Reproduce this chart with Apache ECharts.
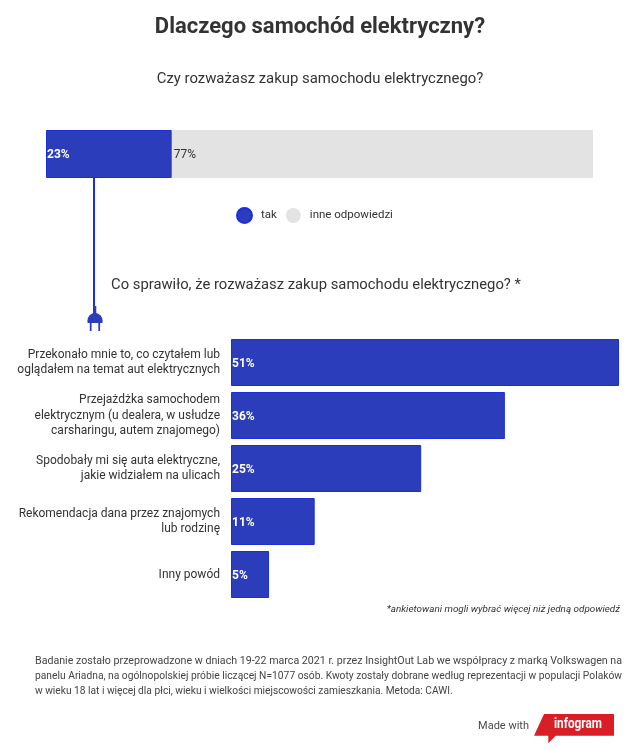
<!DOCTYPE html>
<html>
<head>
<meta charset="utf-8">
<style>
html, body { margin: 0; padding: 0; background: #fff; }
#chart { width: 641px; height: 750px; }
</style>
<script src="https://cdn.jsdelivr.net/npm/echarts@6/dist/echarts.min.js"></script>
</head>
<body>
<div id="chart"></div>
<script>
'use strict';

var topCategories = ['Czy rozważasz'];
var topNames = ['tak', 'inne odpowiedzi'];
var topYes = [23];
var topOther = [77];

var reasonCategories = [
    'Przekonało mnie to, co czytałem lub\noglądałem na temat aut elektrycznych',
    'Przejażdżka samochodem\nelektrycznym (u dealera, w usłudze\ncarsharingu, autem znajomego)',
    'Spodobały mi się auta elektryczne,\njakie widziałem na ulicach',
    'Rekomendacja dana przez znajomych\nlub rodzinę',
    'Inny powód'
];
var reasonValues = [51, 36, 25, 11, 5];

var noteLines = [
    'Badanie zostało przeprowadzone w dniach 19-22 marca 2021 r. przez InsightOut Lab we współpracy z marką Volkswagen na',
    'panelu Ariadna, na ogólnopolskiej próbie liczącej N=1077 osób. Kwoty zostały dobrane według reprezentacji w populacji Polaków',
    'w wieku 18 lat i więcej dla płci, wieku i wielkości miejscowości zamieszkania. Metoda: CAWI.'
];

var BLUE = '#2b3dbb';
var BLUE_EDGE = '#1a2fdc';
var GREY = '#e3e3e3';
var TEXT = '#333333';
var FONT = 'Roboto';

function percent(p) {
    return p.value + '%';
}

function textEl(x, y, text, size, opts) {
    opts = opts || {};
    return {
        type: 'text',
        x: x,
        y: y,
        scaleX: opts.scaleX || 1,
        silent: true,
        style: {
            text: text,
            fontFamily: opts.family || FONT,
            fontSize: size,
            fontWeight: opts.weight || 'normal',
            fontStyle: opts.style || 'normal',
            fill: opts.color || TEXT,
            align: opts.align || 'left',
            verticalAlign: 'middle'
        }
    };
}

function rectEl(x, y, w, h) {
    return { type: 'rect', silent: true, shape: { x: x, y: y, width: w, height: h }, style: { fill: BLUE } };
}

// the note is justified in the original, stretch the long lines to the block width
function noteLine(text, y, justify) {
    var size = 10.2;
    var ctx = document.createElement('canvas').getContext('2d');
    ctx.font = size + 'px ' + FONT;
    var scale = justify ? 587 / ctx.measureText(text).width : 1;
    return textEl(35, y, text, size, { scaleX: scale, color: '#444444' });
}

var graphics = [
    textEl(320, 27.5, 'Dlaczego samochód elektryczny?', 22, { weight: 'bold', align: 'center' }),
    textEl(320, 79, 'Czy rozważasz zakup samochodu elektrycznego?', 14.9, { align: 'center' }),
    textEl(111, 285, 'Co sprawiło, że rozważasz zakup samochodu elektrycznego? *', 14.8),
    textEl(620, 609.5, '*ankietowani mogli wybrać więcej niż jedną odpowiedź', 9.9, { style: 'italic', align: 'right' }),
    // connector with the plug
    { type: 'rect', silent: true, shape: { x: 93, y: 178, width: 2, height: 136 }, style: { fill: BLUE_EDGE } },
    rectEl(93.5, 306, 2.8, 8),
    { type: 'sector', silent: true, shape: { cx: 95, cy: 320.5, r: 7.5, r0: 0, startAngle: Math.PI, endAngle: Math.PI * 2 }, style: { fill: BLUE } },
    rectEl(87.5, 320, 15, 3),
    rectEl(89.8, 322, 1.8, 9),
    rectEl(98.3, 322, 1.8, 9),
    // made with infogram
    textEl(529, 726, 'Made with', 11, { align: 'right', color: '#4a4a4a' }),
    {
        type: 'polygon',
        silent: true,
        shape: { points: [[544, 714], [614, 714], [614, 735.7], [555.7, 735.7], [548.3, 743.3], [548.3, 735.7], [534, 735.7]] },
        style: { fill: '#d91e25' }
    },
    textEl(554, 724.5, 'infogram', 14, { color: '#ffffff', weight: 'bold', scaleX: 0.84 })
];

noteLines.forEach(function(line, i) {
    graphics.push(noteLine(line, 661.5 + i * 15, i < 2));
});

var chart = echarts.init(document.getElementById('chart'), null, { renderer: 'canvas' });
chart.setOption({
    animation: false,
    backgroundColor: '#ffffff',
    textStyle: { fontFamily: FONT },
    legend: {
        data: topNames,
        left: 231,
        top: 202,
        icon: 'circle',
        itemWidth: 15,
        itemHeight: 15,
        itemGap: 9,
        selectedMode: false,
        textStyle: { fontFamily: FONT, fontSize: 11.5, color: TEXT, padding: [0, 0, 0, 4] }
    },
    grid: [
        { left: 46, top: 130, width: 547, height: 48 },
        { left: 231, top: 336, width: 388, height: 265 }
    ],
    xAxis: [
        { gridIndex: 0, type: 'value', min: 0, max: 100, show: false },
        { gridIndex: 1, type: 'value', min: 0, max: 51, show: false }
    ],
    yAxis: [
        { gridIndex: 0, type: 'category', data: topCategories, show: false },
        {
            gridIndex: 1,
            type: 'category',
            data: reasonCategories,
            inverse: true,
            axisLine: { show: false },
            axisTick: { show: false },
            axisLabel: { fontFamily: FONT, fontSize: 12, lineHeight: 15.5, color: TEXT, align: 'right', margin: 11 }
        }
    ],
    series: [
        {
            name: topNames[0],
            type: 'bar',
            stack: 'top',
            xAxisIndex: 0,
            yAxisIndex: 0,
            data: topYes,
            barWidth: 48,
            itemStyle: { color: BLUE, borderColor: BLUE_EDGE, borderWidth: 1 },
            label: { show: true, position: 'insideLeft', distance: 1, offset: [0, 1], formatter: percent, color: '#ffffff', fontWeight: 'bold', fontSize: 12, fontFamily: FONT }
        },
        {
            name: topNames[1],
            type: 'bar',
            stack: 'top',
            xAxisIndex: 0,
            yAxisIndex: 0,
            data: topOther,
            barWidth: 48,
            itemStyle: { color: GREY },
            label: { show: true, position: 'insideLeft', distance: 2, offset: [0, 1], formatter: percent, color: TEXT, fontSize: 12, fontFamily: FONT }
        },
        {
            name: 'Powód',
            type: 'bar',
            xAxisIndex: 1,
            yAxisIndex: 1,
            data: reasonValues,
            barWidth: 47,
            itemStyle: { color: BLUE, borderColor: BLUE_EDGE, borderWidth: 1 },
            label: { show: true, position: 'insideLeft', distance: 1, offset: [0, 1], formatter: percent, color: '#ffffff', fontWeight: 'bold', fontSize: 12, fontFamily: FONT }
        }
    ],
    graphic: graphics
});
</script>
</body>
</html>
